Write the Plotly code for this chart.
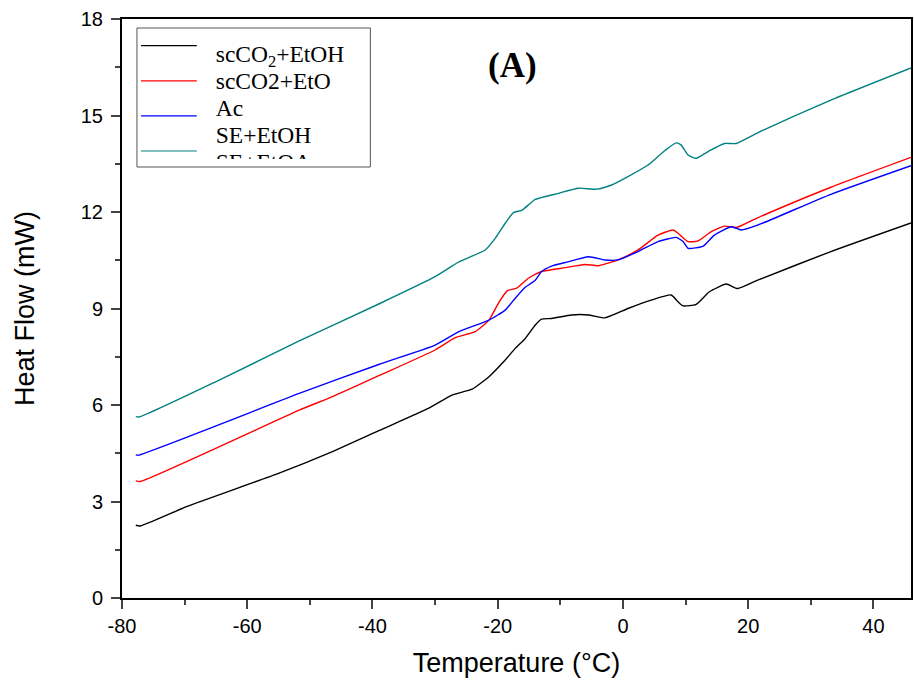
import plotly.graph_objects as go

# (temperature in °C, heat flow in mW)
t_black = [-77.8, -77.1, -69.7, -54.9, -46.4, -39.0, -31.0, -27.3, -24.1, -21.4, -18.8, -17.2, -15.6,
           -14.0, -13.0, -11.4, -8.2, -5.5, -2.9, 0.8, 4.5, 7.7, 8.8, 9.6, 11.7, 13.8, 16.5, 18.3,
           21.5, 33.2, 46.0]
hf_black = [2.26, 2.24, 2.84, 3.88, 4.55, 5.20, 5.90, 6.31, 6.49, 6.88, 7.40, 7.76, 8.07,
            8.49, 8.67, 8.69, 8.80, 8.80, 8.71, 9.00, 9.26, 9.42, 9.21, 9.08, 9.13, 9.52, 9.76, 9.62,
            9.88, 10.77, 11.66]

t_red = [-77.8, -77.1, -51.7, -46.4, -39.0, -30.0, -26.7, -23.6, -21.4, -19.9, -18.5, -17.0, -15.1,
         -13.0, -9.2, -6.1, -3.9, -0.8, 2.4, 5.6, 8.0, 8.8, 10.4, 12.0, 14.1, 16.2, 18.1, 21.5,
         33.2, 46.0]
hf_red = [3.64, 3.62, 5.84, 6.26, 6.91, 7.71, 8.10, 8.28, 8.64, 9.16, 9.55, 9.63, 9.94,
          10.15, 10.27, 10.37, 10.33, 10.51, 10.82, 11.28, 11.44, 11.34, 11.08, 11.10, 11.39, 11.56,
          11.52, 11.82, 12.77, 13.70]

t_blue = [-77.8, -77.4, -51.7, -39.0, -30.0, -26.2, -21.4, -18.8, -17.2, -15.6, -14.0, -13.0, -11.4,
          -9.2, -5.5, -2.9, -0.8, 2.4, 5.6, 8.5, 9.6, 10.4, 12.8, 14.6, 17.3, 18.9, 21.5, 33.2, 46.0]
hf_blue = [4.45, 4.44, 6.36, 7.26, 7.86, 8.28, 8.64, 8.95, 9.32, 9.66, 9.88, 10.15, 10.32,
           10.43, 10.61, 10.51, 10.51, 10.77, 11.08, 11.21, 11.08, 10.87, 10.94, 11.28, 11.54, 11.44,
           11.59, 12.55, 13.44]

t_teal = [-77.8, -77.2, -64.4, -51.7, -39.0, -30.0, -26.2, -22.0, -20.4, -18.8, -17.5, -16.1, -14.0,
          -10.3, -7.1, -4.2, -1.8, 0.8, 4.0, 6.7, 8.5, 9.3, 10.4, 11.7, 13.6, 16.2, 18.1, 21.5,
          33.2, 46.0]
hf_teal = [5.64, 5.63, 6.78, 7.99, 9.14, 9.99, 10.45, 10.82, 11.18, 11.65, 11.98, 12.06, 12.39,
           12.58, 12.74, 12.71, 12.84, 13.10, 13.46, 13.91, 14.15, 14.08, 13.77, 13.67, 13.88, 14.13,
           14.13, 14.46, 15.48, 16.48]

x_ticks = [-80, -60, -40, -20, 0, 20, 40]
x_ticklabels = ["-80", "-60", "-40", "-20", "0", "20", "40"]
y_ticks = [0, 3, 6, 9, 12, 15, 18]
y_ticklabels = ["0", "3", "6", "9", "12", "15", "18"]

legend_labels = ["scCO<sub>2</sub>+EtOH", "scCO2+EtO", "Ac", "SE+EtOH", "SE+EtOAc"]
colors = ["#000000", "#ff0000", "#0000ff", "#008080"]

series = [(t_black, hf_black), (t_red, hf_red), (t_blue, hf_blue), (t_teal, hf_teal)]

fig = go.Figure()
for (t, hf), c in zip(series, colors):
    fig.add_trace(go.Scatter(x=t, y=hf, mode="lines", line=dict(color=c, width=1.4, shape="spline", smoothing=0.5),
                             showlegend=False, hoverinfo="skip"))

# hand-drawn legend box (sample lines and labels are offset, last row cut off)
W, H = 914, 695
ml, mr, mt, mb = 122, 1, 19, 97
pw, ph = W - ml - mr, H - mt - mb


def px_x(x):
    return (x - ml) / pw


def px_y(y):
    return 1 - (y - mt) / ph


box_l, box_r, box_t, box_b, clip_b = 137, 371, 28, 167, 159

for i, c in enumerate(colors):
    yy = 17.7 + 35.1 * i
    fig.add_trace(go.Scatter(x=[4, 60], y=[yy, yy], mode="lines", line=dict(color=c, width=1.2),
                             xaxis="x2", yaxis="y2", showlegend=False, hoverinfo="skip"))

fig.add_trace(go.Scatter(x=[79] * len(legend_labels), y=[27.7 + 27.2 * i for i in range(len(legend_labels))],
                         mode="text", text=legend_labels, textposition="middle right",
                         textfont=dict(family="Liberation Serif, Times New Roman, serif", size=23.5, color="black"),
                         cliponaxis=True, xaxis="x2", yaxis="y2", showlegend=False, hoverinfo="skip"))

fig.add_shape(type="rect", xref="paper", yref="paper",
              x0=px_x(box_l), x1=px_x(box_r), y0=px_y(box_b), y1=px_y(box_t),
              line=dict(color="#555555", width=1))

fig.add_annotation(text="<b>(A)</b>", x=px_x(513), y=px_y(65), xref="paper", yref="paper",
                   xanchor="center", yanchor="middle", showarrow=False,
                   font=dict(family="Liberation Serif, Times New Roman, serif", size=35, color="black"))

axis_font = dict(family="Liberation Sans, Arial, sans-serif", size=20, color="black")
title_font = dict(family="Liberation Sans, Arial, sans-serif", size=27, color="black")
fig.update_layout(
    width=W, height=H,
    margin=dict(l=ml, r=mr, t=mt, b=mb),
    paper_bgcolor="white", plot_bgcolor="white",
    xaxis=dict(range=[-80, 46], tickvals=x_ticks, ticktext=x_ticklabels, ticks="outside", ticklen=9, tickwidth=2,
               minor=dict(dtick=10, tick0=-80, ticks="outside", ticklen=5, tickwidth=2),
               showline=True, linewidth=2, linecolor="black", mirror=True,
               showgrid=False, zeroline=False, tickfont=axis_font,
               title=dict(text="Temperature (°C)", font=title_font, standoff=17)),
    yaxis=dict(range=[0, 18], tickvals=y_ticks, ticktext=y_ticklabels, ticks="outside", ticklen=9, tickwidth=2,
               minor=dict(dtick=1.5, tick0=0, ticks="outside", ticklen=5, tickwidth=2),
               showline=True, linewidth=2, linecolor="black", mirror=True,
               showgrid=False, zeroline=False, tickfont=axis_font, ticklabelstandoff=4,
               title=dict(text="Heat Flow (mW)", font=title_font, standoff=38)),
    xaxis2=dict(domain=[px_x(box_l), px_x(box_r)], range=[0, box_r - box_l], visible=False,
                anchor="y2", fixedrange=True),
    yaxis2=dict(domain=[px_y(clip_b), px_y(box_t)], range=[clip_b - box_t, 0], visible=False,
                anchor="x2", fixedrange=True),
)

fig.write_html("out.html", config={"displayModeBar": False},
               post_script="document.body.style.margin = '0';")
